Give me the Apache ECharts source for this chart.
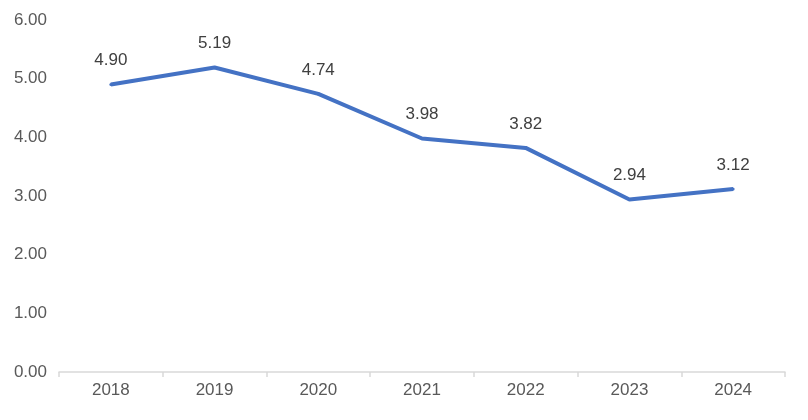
<!DOCTYPE html>
<html><head><meta charset="utf-8">
<script src="https://cdn.jsdelivr.net/npm/echarts@6/dist/echarts.min.js"></script>
<style>html,body{margin:0;padding:0;background:#fff}#c{width:808px;height:420px}</style>
</head><body><div id="c"></div>
<script>
const categories = ['2018','2019','2020','2021','2022','2023','2024'];
const values = [4.90, 5.19, 4.74, 3.98, 3.82, 2.94, 3.12];
const yTicks = {min: 0, max: 6, interval: 1};
const FONT = '"Liberation Sans", Arial, sans-serif';
const chart = echarts.init(document.getElementById('c'));
chart.setOption({
  animation: false,
  grid: {left: 59, right: 23, top: 20, bottom: 48, containLabel: false},
  xAxis: {
    type: 'category', data: categories, boundaryGap: true,
    axisLine: {lineStyle: {color: '#d9d9d9', width: 1.5}},
    axisTick: {show: true, length: 5, lineStyle: {color: '#d9d9d9', width: 1.5}},
    axisLabel: {color: '#595959', fontSize: 17, fontFamily: FONT, margin: 10}
  },
  yAxis: {
    type: 'value', min: yTicks.min, max: yTicks.max, interval: yTicks.interval,
    axisLine: {show: false}, axisTick: {show: false}, splitLine: {show: false},
    axisLabel: {color: '#595959', fontSize: 17, fontFamily: FONT, margin: 12,
      formatter: v => v.toFixed(2)}
  },
  series: [{
    type: 'line', data: values, symbol: 'circle', symbolSize: 3, showSymbol: true,
    itemStyle: {color: '#4472C4'},
    smooth: false,
    lineStyle: {color: '#4472C4', width: 4},
    label: {show: true, position: 'top', distance: 14, color: '#404040', opacity: 1, fontSize: 17, fontFamily: FONT,
      formatter: p => Number(p.value).toFixed(2)}
  }]
});
</script></body></html>
